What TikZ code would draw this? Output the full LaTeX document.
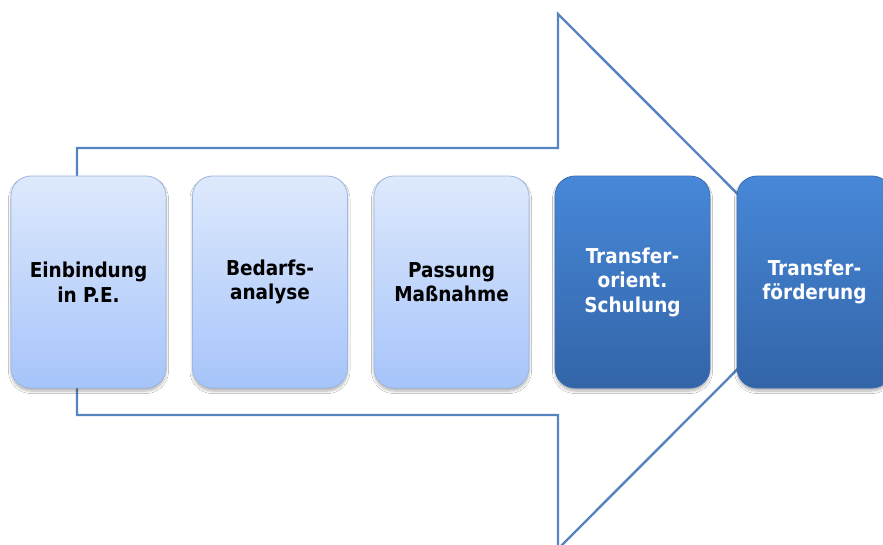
\documentclass[tikz,border=0pt]{standalone}
\usepackage{fontspec}
\setmainfont{DejaVu Sans Condensed}
\usetikzlibrary{shadows.blur}
\definecolor{arrowblue}{HTML}{5584C0}
\definecolor{lighttop}{HTML}{DEE9FC}
\definecolor{lightbot}{HTML}{A6C4FA}
\definecolor{lightborder}{HTML}{9CB8E2}
\definecolor{darktop}{HTML}{4788D8}
\definecolor{darkbot}{HTML}{3364A8}
\definecolor{darkborder}{HTML}{3A6DB2}
\tikzset{
  stepbase/.style={rectangle, rounded corners=20pt, minimum width=155pt, minimum height=212pt,
    inner sep=0pt, align=center, line width=0.8pt,
    font=\fontsize{20.5}{24.5}\selectfont\bfseries,
    blur shadow={shadow xshift=0pt, shadow yshift=-3pt, shadow blur radius=2.5pt, shadow opacity=30, shadow blur steps=8}},
  lightbox/.style={stepbase, draw=lightborder, top color=lighttop, bottom color=lightbot, text=black},
  darkbox/.style={stepbase, draw=darkborder, top color=darktop, bottom color=darkbot, text=white},
  bigarrow/.style={draw=arrowblue, line width=2.4pt, line join=miter}
}
\begin{document}
\begin{tikzpicture}[x=1pt, y=-1pt]
\useasboundingbox (0,0) rectangle (883,544);
\clip (0,0) rectangle (883,544);
\fill[white] (0,0) rectangle (883,544);
\draw[bigarrow] (77,148) -- (558,148) -- (558,14) -- (825,281.5) -- (558,549) -- (558,415) -- (77,415) -- cycle;
\node[lightbox] (n1) at (88.5,282) {Einbindung\\in P.E.};
\node[lightbox] (n2) at (270,282) {Bedarfs-\\analyse};
\node[lightbox] (n3) at (451.5,282) {Passung\\Maßnahme};
\node[darkbox] (n4) at (632.5,282) {Transfer-\\orient.\\Schulung};
\node[darkbox] (n5) at (814.5,282) {Transfer-\\förderung};
\end{tikzpicture}
\end{document}
